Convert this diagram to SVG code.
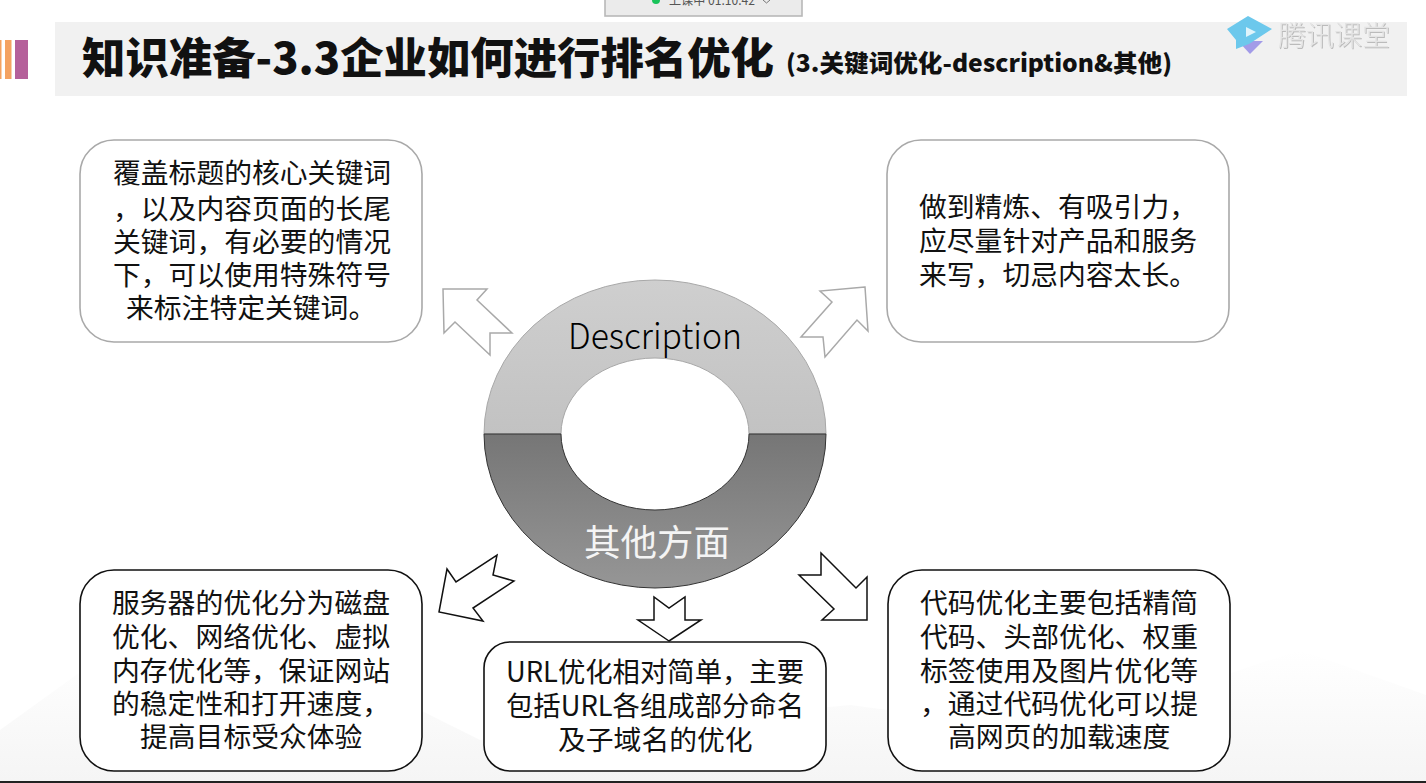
<svg xmlns="http://www.w3.org/2000/svg" width="1426" height="783" viewBox="0 0 1426 783">
<style>
text{font-family:"Noto Sans CJK SC","Noto Sans",sans-serif}
.b{font-size:27.8px;fill:#111}
.box{fill:#fff;stroke-width:1.6}
.g{stroke:#a9a9a9}
.k{stroke:#111}
.ar{fill:#fff;stroke-width:1.5}
</style>
<defs>
<linearGradient id="top" x1="0" y1="0" x2="0" y2="1"><stop offset="0" stop-color="#cfcfcf"/><stop offset="1" stop-color="#c2c2c2"/></linearGradient>
<linearGradient id="bot" x1="0" y1="0" x2="0" y2="1"><stop offset="0" stop-color="#767676"/><stop offset="1" stop-color="#969696"/></linearGradient>
<linearGradient id="bg" x1="0" y1="0" x2="0" y2="1"><stop offset="0" stop-color="#fff"/><stop offset="1" stop-color="#f5f5f5"/></linearGradient>
<filter id="sh" x="-10%" y="-10%" width="120%" height="130%"><feDropShadow dx="1" dy="1" stdDeviation="0.6" flood-color="#bbb"/></filter>
</defs>
<rect width="1426" height="783" fill="#fff"/>
<path d="M0 730L90 665L230 700L330 665L480 740L640 725L850 705L1000 725L1180 690L1300 650L1426 695V781H0Z" fill="url(#bg)"/>
<rect y="781" width="1426" height="2" fill="#222"/>
<g id="recording-badge">
<rect x="605" y="-4" width="197" height="20" fill="#ebebeb" stroke="#b8b8b8" stroke-width="1.6"/>
<circle cx="656" cy="0" r="4" fill="#19c35a"/>
<text x="669" y="5" font-size="12.500" fill="#555" textLength="86" lengthAdjust="spacingAndGlyphs">上课中 01:10:42</text>
<path d="M763 0l3.500 3 3.500-3" fill="none" stroke="#777"/>
</g>
<g id="title-bar">
<rect x="55" y="22" width="1352" height="74" fill="#f1f1f1"/>
<rect x="0" y="40" width="1.500" height="39" fill="#f4a261"/>
<rect x="5" y="40" width="6.500" height="39" fill="#f4a261"/>
<rect x="15" y="40" width="13" height="39" fill="#b5609a"/>
<text x="82" y="74" font-size="43" font-weight="900" fill="#111" textLength="692" lengthAdjust="spacingAndGlyphs">知识准备-3.3企业如何进行排名优化</text>
<text x="786" y="72" font-size="24" font-weight="900" fill="#111" textLength="386" lengthAdjust="spacingAndGlyphs">(3.关键词优化-description&amp;其他)</text>
</g>
<g id="logo">
<path d="M1238 41L1250 54L1263 41Z" fill="#a29be8"/>
<path d="M1248 16L1272 29L1249 44L1236 49L1236 40L1227 29Z" fill="#6cc8ec"/>
<path d="M1246 27L1256 32L1246 37Z" fill="#dff4fb"/>
<text x="1278" y="46" font-size="28" fill="#e4e4e4" font-weight="300" filter="url(#sh)">腾讯课堂</text>
</g>
<g id="connectors">
<path class="ar g" d="M443 289L487 289L477 300L512 333L490 333L490 355L455 322L444 333Z"/>
<path class="ar g" d="M865 287L820 291L832 302L801 337L823 337L825 357L857 320L868 331Z"/>
<path class="ar k" d="M439 612L447 569L456 582L497 555L493 575L514 581L473 608L483 621Z"/>
<path class="ar k" d="M669 641L638 620L654 620L654 597L669 608L685 597L685 620L701 620Z"/>
<path class="ar k" d="M867 620L867 577L856 588L821 553L821 575L799 575L834 609L822 620Z"/>
</g>
<g id="donut">
<path d="M484 434A171 154 0 0 1 826 434H749A94 76 0 0 0 561 434Z" fill="url(#top)" stroke="#a8a8a8"/>
<path d="M484 434A171 154 0 0 0 826 434H749A94 76 0 0 1 561 434Z" fill="url(#bot)" stroke="#333"/>
<text x="655" y="349" font-size="36" text-anchor="middle" fill="#000" font-weight="300" textLength="174" lengthAdjust="spacingAndGlyphs">Description</text>
<text x="657" y="556" font-size="36.500" text-anchor="middle" fill="#f4f4f4">其他方面</text>
</g>
<g id="node-tl">
<rect class="box g" x="80" y="140" width="342" height="202" rx="34"/>
<text class="b"><tspan x="113" y="183">覆盖标题的核心关键词</tspan><tspan x="113" y="219">，以及内容页面的长尾</tspan><tspan x="113" y="252">关键词，有必要的情况</tspan><tspan x="113" y="285">下，可以使用特殊符号</tspan><tspan x="126" y="318">来标注特定关键词。</tspan></text>
</g>
<g id="node-tr">
<rect class="box g" x="887" y="140" width="342" height="202" rx="34"/>
<text class="b"><tspan x="919" y="217">做到精炼、有吸引力，</tspan><tspan x="919" y="251">应尽量针对产品和服务</tspan><tspan x="919" y="285">来写，切忌内容太长。</tspan></text>
</g>
<g id="node-bl">
<rect class="box k" x="80" y="570" width="342" height="201" rx="34"/>
<text class="b"><tspan x="112" y="613">服务器的优化分为磁盘</tspan><tspan x="112" y="647">优化、网络优化、虚拟</tspan><tspan x="112" y="681">内存优化等，保证网站</tspan><tspan x="112" y="714">的稳定性和打开速度，</tspan><tspan x="140" y="747">提高目标受众体验</tspan></text>
</g>
<g id="node-bc">
<rect class="box k" x="484" y="642" width="342" height="129" rx="26"/>
<text class="b"><tspan x="506" y="682" textLength="298" lengthAdjust="spacingAndGlyphs">URL优化相对简单，主要</tspan><tspan x="506" y="716" textLength="298" lengthAdjust="spacingAndGlyphs">包括URL各组成部分命名</tspan><tspan x="558" y="750">及子域名的优化</tspan></text>
</g>
<g id="node-br">
<rect class="box k" x="888" y="570" width="342" height="201" rx="34"/>
<text class="b"><tspan x="920" y="613">代码优化主要包括精简</tspan><tspan x="920" y="647">代码、头部优化、权重</tspan><tspan x="920" y="681">标签使用及图片优化等</tspan><tspan x="920" y="714">，通过代码优化可以提</tspan><tspan x="948" y="747">高网页的加载速度</tspan></text>
</g>
</svg>
